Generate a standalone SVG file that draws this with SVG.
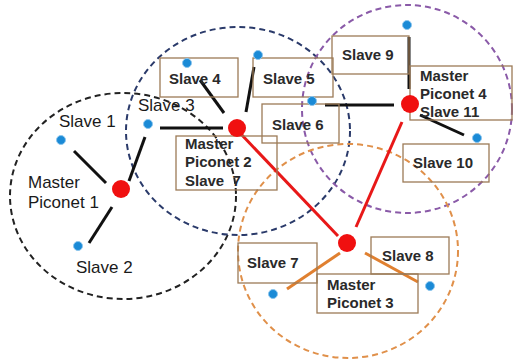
<svg xmlns="http://www.w3.org/2000/svg" width="518" height="360" viewBox="0 0 518 360">
  <style>
    .range { fill: none; stroke-width: 2; stroke-dasharray: 6 4; }
    .box { fill: none; stroke: #9c7a56; stroke-width: 1.3; }
    .lbl { font-family: "Liberation Sans", Arial, sans-serif; font-size: 17px; fill: #1a1a1a; }
    .blbl { font-family: "Liberation Sans", Arial, sans-serif; font-size: 15px; font-weight: bold; fill: #2a2a2a; white-space: pre; }
    .link { stroke: #111; stroke-width: 3; }
    .trunk { stroke: #e81818; stroke-width: 3; }
    .olink { stroke: #e08030; stroke-width: 3; }
    .master { fill: #f01010; }
    .slave { fill: #1a8ad6; stroke: #8cc6ee; stroke-width: 1; }
  </style>

  <!-- piconet coverage ranges -->
  <g id="ranges">
    <ellipse class="range" cx="123" cy="196" rx="113" ry="103" stroke="#222"/>
    <ellipse class="range" cx="238" cy="131" rx="112" ry="104" stroke="#2a3a6a"/>
    <ellipse class="range" cx="407" cy="109" rx="105" ry="104" stroke="#8a5aa8"/>
    <ellipse class="range" cx="348" cy="251" rx="110" ry="107" stroke="#e0904a"/>
  </g>

  <!-- connectors -->
  <g id="connectors">
    <line class="link" x1="74" y1="151" x2="106" y2="183"/>
    <line class="link" x1="89" y1="243" x2="112" y2="207"/>
    <line class="link" x1="129" y1="181" x2="145" y2="137"/>
    <line class="link" x1="160" y1="128" x2="223" y2="128"/>
    <line class="link" x1="200" y1="80" x2="224" y2="113"/>
    <line class="link" x1="254" y1="67" x2="246" y2="112"/>
    <line class="link" x1="325" y1="105" x2="394" y2="105"/>
    <line class="link" x1="409" y1="37" x2="409" y2="89"/>
    <line class="link" x1="420" y1="115" x2="464" y2="135"/>
    <line class="trunk" x1="240" y1="133" x2="338" y2="236"/>
    <line class="trunk" x1="402" y1="122" x2="356" y2="227"/>
    <line class="olink" x1="340" y1="253" x2="287" y2="289"/>
    <line class="olink" x1="365" y1="253" x2="418" y2="282"/>
  </g>

  <!-- piconet 1 -->
  <g id="master1">
    <circle class="master" cx="121" cy="189" r="9"/>
    <text class="lbl" x="28" y="188">Master</text>
    <text class="lbl" x="28" y="208">Piconet 1</text>
  </g>
  <g id="slave1">
    <circle class="slave" cx="61" cy="140" r="4.5"/>
    <text class="lbl" x="59" y="127">Slave 1</text>
  </g>
  <g id="slave2">
    <circle class="slave" cx="78" cy="246" r="4.5"/>
    <text class="lbl" x="76" y="273">Slave 2</text>
  </g>
  <g id="slave3">
    <circle class="slave" cx="148" cy="124" r="4.5"/>
    <text class="lbl" x="138" y="111">Slave 3</text>
  </g>

  <!-- piconet 2 -->
  <g id="master2">
    <rect class="box" x="176" y="136" width="101" height="54"/>
    <circle class="master" cx="237" cy="128" r="9"/>
    <text class="blbl" x="185" y="149">Master</text>
    <text class="blbl" x="185" y="167">Piconet 2</text>
    <text class="blbl" x="185" y="186">Slave  7</text>
  </g>
  <g id="slave4">
    <rect class="box" x="160" y="58" width="78" height="39"/>
    <circle class="slave" cx="187" cy="63" r="4.5"/>
    <text class="blbl" x="169" y="84">Slave 4</text>
  </g>
  <g id="slave5">
    <rect class="box" x="253" y="58" width="80" height="39"/>
    <circle class="slave" cx="258" cy="55" r="4.5"/>
    <text class="blbl" x="263" y="84">Slave 5</text>
  </g>
  <g id="slave6">
    <rect class="box" x="262" y="104" width="77" height="39"/>
    <circle class="slave" cx="312" cy="101" r="4.5"/>
    <text class="blbl" x="272" y="130">Slave 6</text>
  </g>

  <!-- piconet 4 -->
  <g id="master4">
    <rect class="box" x="410" y="66" width="102" height="54"/>
    <circle class="master" cx="410" cy="104" r="9"/>
    <text class="blbl" x="420" y="81">Master</text>
    <text class="blbl" x="420" y="99">Piconet 4</text>
    <text class="blbl" x="420" y="117">Slave 11</text>
  </g>
  <g id="slave9">
    <rect class="box" x="332" y="36" width="77" height="38"/>
    <circle class="slave" cx="407" cy="25" r="4.5"/>
    <text class="blbl" x="342" y="60">Slave 9</text>
  </g>
  <g id="slave10">
    <rect class="box" x="403" y="144" width="86" height="38"/>
    <circle class="slave" cx="477" cy="138" r="4.5"/>
    <text class="blbl" x="413" y="168">Slave 10</text>
  </g>

  <!-- piconet 3 -->
  <g id="master3">
    <rect class="box" x="317" y="274" width="101" height="39"/>
    <circle class="master" cx="347" cy="243" r="9"/>
    <text class="blbl" x="327" y="290">Master</text>
    <text class="blbl" x="327" y="308">Piconet 3</text>
  </g>
  <g id="slave7">
    <rect class="box" x="238" y="243" width="79" height="40"/>
    <circle class="slave" cx="273" cy="294" r="4.5"/>
    <text class="blbl" x="247" y="268">Slave 7</text>
  </g>
  <g id="slave8">
    <rect class="box" x="371" y="237" width="78" height="37"/>
    <circle class="slave" cx="430" cy="286" r="4.5"/>
    <text class="blbl" x="382" y="261">Slave 8</text>
  </g>
</svg>
